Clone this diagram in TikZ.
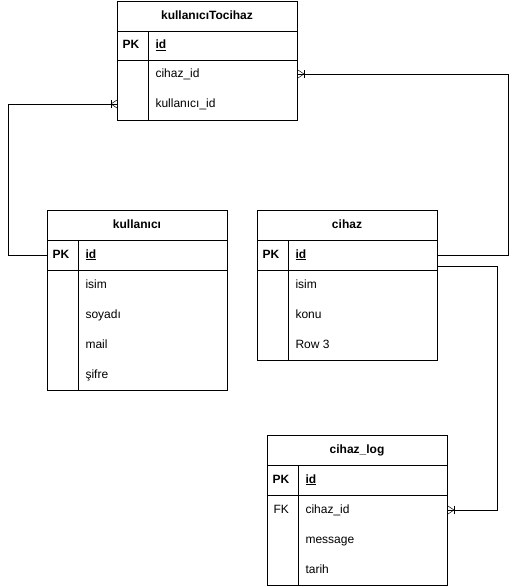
\documentclass[tikz,border=0pt]{standalone}
\usepackage{fontspec}
\setmainfont{Liberation Sans}
\usepackage{tikz}
\usetikzlibrary{positioning, calc}
\newcommand{\tblfont}{\fontsize{12}{14}\selectfont}

\tikzset{
    tbl/.style={draw, line width=1pt, anchor=north west, minimum width=180pt, inner sep=0pt},
    txt/.style={text height=9pt, text depth=3pt},
    head/.style={txt, font=\tblfont\bfseries},
    key/.style={txt, font=\tblfont\bfseries, anchor=west},
    fld/.style={txt, font=\tblfont, anchor=west},
    rel/.style={line width=1pt},
    crowfoot/.pic={
        \draw[line width=1pt] (-6,-4) -- (-6,4);
        \draw[line width=0.5pt] (-6,0) -- (0,-4) (-6,0) -- (0,4);
    }
}

\begin{document}
\begin{tikzpicture}[x=1pt, y=-1pt]
    \useasboundingbox (0,0) rectangle (517,587);

    % kullanıcıTocihaz
    \node[tbl, minimum height=119pt] (kct) at (117,1) {};
    \draw[line width=1pt] (117,31) -- (297,31) (117,60) -- (297,60) (148,31) -- (148,120);
    \node[head] (kct-h) at (207,16) {kullanıcıTocihaz};
    \node[key] (kct-pk) at (119,45.5) {PK};
    \node[fld] (kct-id) at (152,45.5) {\textbf{\underline{id}}};
    \node[fld] (kct-r1) at (152,74) {cihaz\_id};
    \node[fld] (kct-r2) at (152,104) {kullanıcı\_id};

    % kullanıcı
    \node[tbl, minimum height=180pt] (kul) at (47,210) {};
    \draw[line width=1pt] (47,240) -- (227,240) (47,270) -- (227,270) (78,240) -- (78,390);
    \node[head] (kul-h) at (137,225) {kullanıcı};
    \node[key] (kul-pk) at (49,255) {PK};
    \node[fld] (kul-id) at (82,255) {\textbf{\underline{id}}};
    \node[fld] (kul-r1) at (82,285) {isim};
    \node[fld] (kul-r2) at (82,315) {soyadı};
    \node[fld] (kul-r3) at (82,345) {mail};
    \node[fld] (kul-r4) at (82,375) {şifre};

    % cihaz
    \node[tbl, minimum height=150pt] (cih) at (257,210) {};
    \draw[line width=1pt] (257,240) -- (437,240) (257,270) -- (437,270) (288,240) -- (288,360);
    \node[head] (cih-h) at (347,225) {cihaz};
    \node[key] (cih-pk) at (259,255) {PK};
    \node[fld] (cih-id) at (292,255) {\textbf{\underline{id}}};
    \node[fld] (cih-r1) at (292,285) {isim};
    \node[fld] (cih-r2) at (292,315) {konu};
    \node[fld] (cih-r3) at (292,345) {Row 3};

    % cihaz_log
    \node[tbl, minimum height=150pt] (log) at (267,435) {};
    \draw[line width=1pt] (267,465) -- (447,465) (267,495) -- (447,495) (298,465) -- (298,585);
    \node[head] (log-h) at (357,450) {cihaz\_log};
    \node[key] (log-pk) at (269,480) {PK};
    \node[fld] (log-id) at (302,480) {\textbf{\underline{id}}};
    \node[fld] (log-fk) at (270,510) {FK};
    \node[fld] (log-r1) at (302,510) {cihaz\_id};
    \node[fld] (log-r2) at (302,540) {message};
    \node[fld] (log-r3) at (302,570) {tarih};

    % iliskiler
    \coordinate (k1) at (8,255);
    \coordinate (c1) at (508,255);
    \coordinate (c2) at (497,266);
    \draw[rel] (kul.west |- kul-pk) -- (k1) |- (kct.west |- kct-r2);
    \draw[rel] (cih.east |- cih-pk) -- (c1) |- (kct.east |- kct-r1);
    \draw[rel] ([yshift=-11pt]cih.east |- cih-pk) -- (c2) |- (log.east |- log-r1);
    \pic at (kct.west |- kct-r2) {crowfoot};
    \pic[rotate=180] at (kct.east |- kct-r1) {crowfoot};
    \pic[rotate=180] at (log.east |- log-r1) {crowfoot};
\end{tikzpicture}
\end{document}
